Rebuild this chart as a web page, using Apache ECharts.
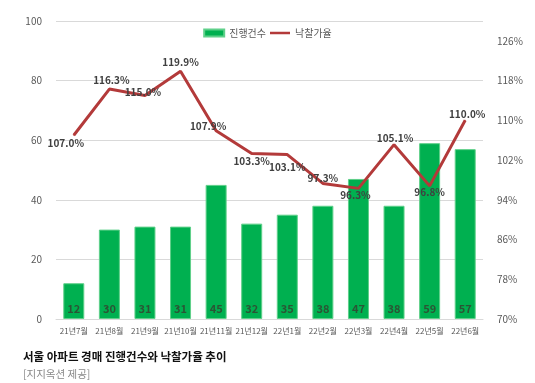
<!DOCTYPE html>
<html><head><meta charset="utf-8">
<script src="https://cdn.jsdelivr.net/npm/echarts@6/dist/echarts.min.js"></script>
<style>html,body{margin:0;padding:0;background:#fff;}#c{width:535px;height:383px;}</style>
</head><body><div id="c"></div>
<script>
const categories = ['21년7월','21년8월','21년9월','21년10월','21년11월','21년12월','22년1월','22년2월','22년3월','22년4월','22년5월','22년6월'];
const counts = [12,30,31,31,45,32,35,38,47,38,59,57];
const rates = [107.0,116.3,115.0,119.9,107.9,103.3,103.1,97.3,96.3,105.1,96.8,110.0];
const leftTicks = [0,20,40,60,80,100];
const rightTicks = [70,78,86,94,102,110,118,126];

const F = '"Noto Sans CJK KR", "Noto Sans", sans-serif';
const labelPos = [
  {position:'bottom', offset:[-8,-3]},
  {position:'top', offset:[2,2]},
  {position:'bottom', offset:[-2,-14]},
  {position:'top', offset:[0,2]},
  {position:'top', offset:[-8,6]},
  {position:'bottom', offset:[0,-3]},
  {position:'bottom', offset:[0,2]},
  {position:'top', offset:[0,5]},
  {position:'bottom', offset:[-3,-4]},
  {position:'top', offset:[1,4]},
  {position:'bottom', offset:[0,-4]},
  {position:'top', offset:[2,4]}
];

const chart = echarts.init(document.getElementById('c'), null, {renderer:'canvas'});
chart.setOption({
  animation:false,
  textStyle:{fontFamily:F},
  legend:{
    top:23, left:'center', itemGap:4, itemWidth:20, itemHeight:7,
    textStyle:{fontFamily:F, fontSize:10, color:'#595959'},
    data:[{name:'진행건수', icon:'rect'},{name:'낙찰가율', icon:'path://M0 0h24v3H0z'}]
  },
  title:[
    {text:'서울 아파트 경매 진행건수와 낙찰가율 추이', left:18, top:346,
     textStyle:{fontFamily:F, fontSize:11.5, fontWeight:'bold', color:'#111'}},
    {text:'[지지옥션 제공]', left:18, top:364,
     textStyle:{fontFamily:F, fontSize:10.5, fontWeight:'normal', color:'#888'}}
  ],
  grid:{left:56, right:52, top:21, bottom:64},
  xAxis:{
    type:'category', data:categories,
    axisLine:{lineStyle:{color:'#d9d9d9'}}, axisTick:{show:false},
    axisLabel:{fontFamily:F, fontSize:8, color:'#595959', interval:0, margin:8}
  },
  yAxis:[
    {type:'value', min:leftTicks[0], max:leftTicks[leftTicks.length-1], interval:20,
     axisLine:{show:false}, axisTick:{show:false},
     splitLine:{lineStyle:{color:'#d9d9d9'}},
     axisLabel:{fontFamily:F, fontSize:10, color:'#595959', margin:14}},
    {type:'value', min:rightTicks[0], max:130, interval:8,
     axisLine:{show:false}, axisTick:{show:false}, splitLine:{show:false},
     axisLabel:{fontFamily:F, fontSize:10, color:'#595959', margin:14, showMaxLabel:false,
       formatter:v=>v+'%'}}
  ],
  series:[
    {name:'진행건수', type:'bar', data:counts, barWidth:21, yAxisIndex:0,
     itemStyle:{color:'#00B050', borderColor:'#5fd08a', borderWidth:1},
     label:{show:true, position:'insideBottom', distance:5, fontFamily:F, fontSize:11,
       fontWeight:'bold', color:'#2a5535'}},
    {name:'낙찰가율', type:'line', yAxisIndex:1, symbol:'circle', symbolSize:1, showSymbol:true,
     lineStyle:{color:'#B33A3A', width:3}, itemStyle:{color:'#B33A3A'},
     data:rates.map((v,i)=>({value:v, label:Object.assign({show:true}, labelPos[i])})),
     label:{show:true, fontFamily:F, fontSize:10, fontWeight:'bold', color:'#404040',
       formatter:p=>p.value.toFixed(1)+'%'}}
  ]
});
</script></body></html>
